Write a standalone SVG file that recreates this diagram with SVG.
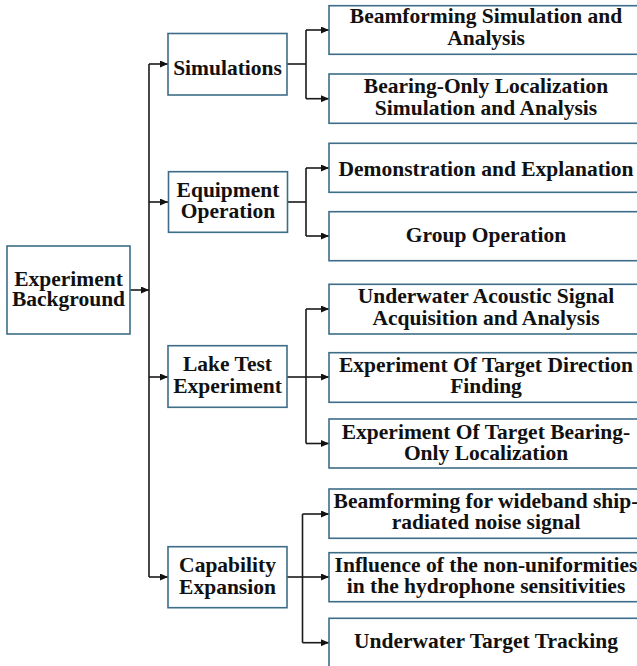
<svg xmlns="http://www.w3.org/2000/svg" width="637" height="666" viewBox="0 0 637 666">
<style>
.box{fill:#fff;stroke:#3d6d88;stroke-width:1.6}
.t{font-family:"Liberation Serif","Times New Roman",serif;font-weight:bold;font-size:21.5px;fill:#111;text-anchor:middle}
.c{fill:none;stroke:#1a1a1a;stroke-width:1.6}
</style>
<defs>
<marker id="ah" markerWidth="8" markerHeight="7" refX="8" refY="3.5" orient="auto" markerUnits="userSpaceOnUse">
<path d="M0,0 L8,3.5 L0,7 z" fill="#111"/>
</marker>
</defs>
<rect width="637" height="666" fill="#fff"/>
<g id="connectors">
<line class="c" x1="130" y1="290" x2="149" y2="290" marker-end="url(#ah)"/>
<line class="c" x1="149" y1="64" x2="149" y2="577"/>
<line class="c" x1="149" y1="64" x2="168" y2="64" marker-end="url(#ah)"/>
<line class="c" x1="149" y1="202" x2="168" y2="202" marker-end="url(#ah)"/>
<line class="c" x1="149" y1="377" x2="168" y2="377" marker-end="url(#ah)"/>
<line class="c" x1="149" y1="577" x2="168" y2="577" marker-end="url(#ah)"/>
<line class="c" x1="287" y1="64" x2="306" y2="64"/>
<line class="c" x1="306" y1="30" x2="306" y2="98.7"/>
<line class="c" x1="306" y1="30" x2="329" y2="30" marker-end="url(#ah)"/>
<line class="c" x1="306" y1="98.7" x2="329" y2="98.7" marker-end="url(#ah)"/>
<line class="c" x1="287" y1="202" x2="306" y2="202"/>
<line class="c" x1="306" y1="168" x2="306" y2="236"/>
<line class="c" x1="306" y1="168" x2="329" y2="168" marker-end="url(#ah)"/>
<line class="c" x1="306" y1="236" x2="329" y2="236" marker-end="url(#ah)"/>
<line class="c" x1="287" y1="377" x2="306" y2="377"/>
<line class="c" x1="306" y1="309" x2="306" y2="443.5"/>
<line class="c" x1="306" y1="309" x2="329" y2="309" marker-end="url(#ah)"/>
<line class="c" x1="306" y1="377" x2="329" y2="377" marker-end="url(#ah)"/>
<line class="c" x1="306" y1="443.5" x2="329" y2="443.5" marker-end="url(#ah)"/>
<line class="c" x1="287" y1="577" x2="302.5" y2="577"/>
<line class="c" x1="302.5" y1="514" x2="302.5" y2="642.7"/>
<line class="c" x1="302.5" y1="514" x2="329" y2="514" marker-end="url(#ah)"/>
<line class="c" x1="302.5" y1="577" x2="329" y2="577" marker-end="url(#ah)"/>
<line class="c" x1="302.5" y1="642.7" x2="329" y2="642.7" marker-end="url(#ah)"/>
</g>
<g id="experiment-background">
<rect class="box" x="7" y="246" width="123" height="88"/>
<text class="t" x="68.5" y="286">Experiment</text>
<text class="t" x="68.5" y="305.7">Background</text>
</g>
<g id="simulations">
<rect class="box" x="168" y="33.5" width="119" height="61.5"/>
<text class="t" x="227.5" y="74.5">Simulations</text>
</g>
<g id="equipment-operation">
<rect class="box" x="168.5" y="171.7" width="119" height="60.6"/>
<text class="t" x="228" y="196.7">Equipment</text>
<text class="t" x="228" y="218.3">Operation</text>
</g>
<g id="lake-test-experiment">
<rect class="box" x="168" y="345.7" width="119" height="61.6"/>
<text class="t" x="227.5" y="371">Lake Test</text>
<text class="t" x="227.5" y="393.3">Experiment</text>
</g>
<g id="capability-expansion">
<rect class="box" x="168" y="546.7" width="119" height="61"/>
<text class="t" x="227.5" y="572.3">Capability</text>
<text class="t" x="227.5" y="594.3">Expansion</text>
</g>
<g id="beamforming-simulation">
<rect class="box" x="329" y="5.7" width="315" height="48.6"/>
<text class="t" x="486" y="23.3">Beamforming Simulation and</text>
<text class="t" x="486" y="45">Analysis</text>
</g>
<g id="bearing-only-simulation">
<rect class="box" x="329" y="74" width="315" height="49.3"/>
<text class="t" x="486" y="93.3">Bearing-Only Localization</text>
<text class="t" x="486" y="115">Simulation and Analysis</text>
</g>
<g id="demonstration">
<rect class="box" x="329" y="143.3" width="315" height="49"/>
<text class="t" x="486" y="175.7">Demonstration and Explanation</text>
</g>
<g id="group-operation">
<rect class="box" x="329" y="211.7" width="315" height="49"/>
<text class="t" x="486" y="242.3">Group Operation</text>
</g>
<g id="acoustic-signal">
<rect class="box" x="329" y="284.3" width="315" height="49.7"/>
<text class="t" x="486" y="303.3">Underwater Acoustic Signal</text>
<text class="t" x="486" y="325">Acquisition and Analysis</text>
</g>
<g id="direction-finding">
<rect class="box" x="329" y="352.7" width="315" height="49.6"/>
<text class="t" x="486" y="372.3">Experiment Of Target Direction</text>
<text class="t" x="486" y="393.3">Finding</text>
</g>
<g id="bearing-only-experiment">
<rect class="box" x="329" y="419" width="315" height="49"/>
<text class="t" x="486" y="439">Experiment Of Target Bearing-</text>
<text class="t" x="486" y="460">Only Localization</text>
</g>
<g id="wideband-beamforming">
<rect class="box" x="329" y="489" width="315" height="49.3"/>
<text class="t" x="486" y="508.3">Beamforming for wideband ship-</text>
<text class="t" x="486" y="529">radiated noise signal</text>
</g>
<g id="non-uniformities">
<rect class="box" x="329" y="552.7" width="315" height="49"/>
<text class="t" x="486" y="571.7">Influence of the non-uniformities</text>
<text class="t" x="486" y="593.3">in the hydrophone sensitivities</text>
</g>
<g id="target-tracking">
<rect class="box" x="329" y="618.3" width="315" height="49"/>
<text class="t" x="486" y="648.3">Underwater Target Tracking</text>
</g>
</svg>
